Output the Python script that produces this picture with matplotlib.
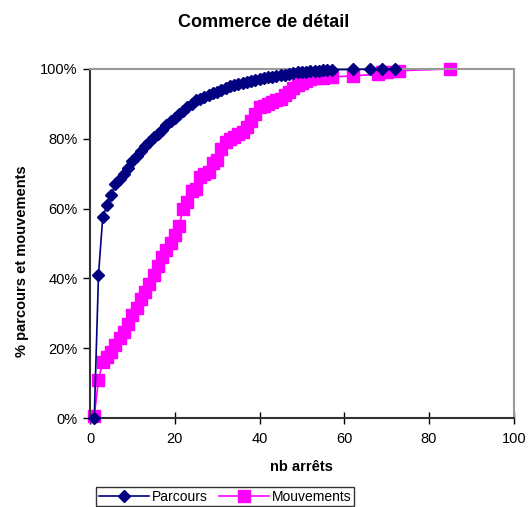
import matplotlib.pyplot as plt
from matplotlib.ticker import PercentFormatter

plt.rcParams['font.family'] = ['Liberation Sans', 'DejaVu Sans']

# Parcours (cumulative share, %)
parcours_x = list(range(1, 58)) + [62, 66, 69, 72]
parcours_y = [0, 41, 57.5, 61, 64, 67, 68.5, 70, 71.5, 73.5,
              75, 76.5, 78, 79, 80.5, 81.5, 82.5, 84, 85, 86,
              87, 88, 89, 90, 91, 91.5, 92, 92.5, 93, 93.5,
              94, 94.5, 95, 95.3, 95.6, 96, 96.3, 96.6, 96.9, 97.2,
              97.4, 97.6, 97.8, 98, 98.2, 98.4, 98.6, 98.8, 99, 99.1,
              99.2, 99.3, 99.4, 99.5, 99.6, 99.7, 99.8,
              99.85, 99.9, 99.95, 100]

# Mouvements (cumulative share, %)
mouv_x = list(range(1, 54)) + [55, 57, 62, 68, 69, 70, 73, 85]
mouv_y = [0.5, 11, 16, 17.5, 19, 21, 23, 24.5, 27, 29.5,
          31.5, 34, 36, 38.5, 41, 43.5, 46, 48, 50, 52.5,
          55, 60, 62, 65, 65.5, 69, 70, 70.5, 73, 74,
          77, 79, 80, 80.5, 81.5, 82, 83.5, 85, 87, 89,
          89.5, 90, 90.5, 91, 91.5, 92.5, 93.5, 94.5, 95.5, 96,
          96.5, 97, 97.3,
          97.5, 97.7, 98, 98.5, 99, 99.2, 99.5, 100]

fig = plt.figure(figsize=(5.28, 5.07), dpi=100)
ax = fig.add_axes([0.1705, 0.1755, 0.8025, 0.6885])

ax.plot(parcours_x, parcours_y, color='#000080', marker='D', markersize=6,
        linewidth=1.2, label='Parcours', clip_on=False, zorder=3)
ax.plot(mouv_x, mouv_y, color='#FF00FF', marker='s', markersize=8,
        linewidth=1.2, label='Mouvements', clip_on=False, zorder=2)

ax.set_xlim(0, 100)
ax.set_ylim(0, 100)
ax.set_xticks([0, 20, 40, 60, 80, 100])
ax.set_yticks([0, 20, 40, 60, 80, 100])
ax.yaxis.set_major_formatter(PercentFormatter(decimals=0))

ax.spines['top'].set_color('#999999')
ax.spines['right'].set_color('#999999')
ax.spines['top'].set_linewidth(1.5)
ax.spines['right'].set_linewidth(1.5)
ax.spines['left'].set_color('#333333')
ax.spines['bottom'].set_color('#333333')
ax.spines['left'].set_linewidth(1.5)
ax.spines['bottom'].set_linewidth(1.5)

ax.tick_params(axis='x', direction='inout', length=8, width=1, labelsize=10.5, pad=6)
ax.tick_params(axis='y', direction='out', length=5, width=1, labelsize=10.5, pad=4)

# title is centred on the whole figure, not on the plot area
ax.set_title('Commerce de détail', fontsize=13, fontweight='bold', pad=30, x=0.41)
ax.set_xlabel('nb arrêts', fontsize=10.5, fontweight='bold', labelpad=10)
ax.set_ylabel('% parcours et mouvements', fontsize=10.5, fontweight='bold', labelpad=10)
ax.yaxis.set_label_coords(-0.145, 0.45)

leg = ax.legend(loc='upper left', bbox_to_anchor=(0.015, -0.197), ncol=2,
                fontsize=10, frameon=True, fancybox=False, edgecolor='black',
                handlelength=3.6, handletextpad=0.2, columnspacing=0.8,
                borderpad=0.2, borderaxespad=0)
leg.get_frame().set_linewidth(1)

fig.savefig('out.png', dpi=100)
